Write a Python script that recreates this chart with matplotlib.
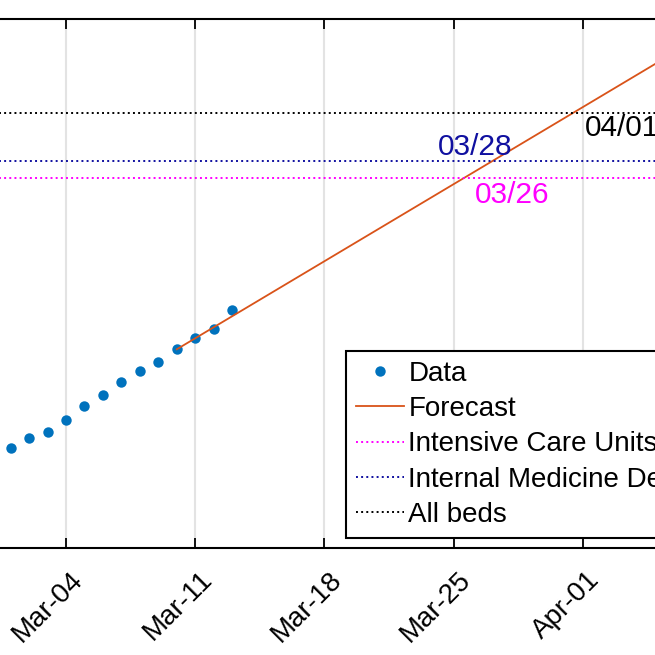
import datetime as dt

import matplotlib.dates as mdates
import matplotlib.transforms as mtransforms
from matplotlib import pyplot as plt

# observed data (Mar 01 - Mar 13)
data_dates = [dt.datetime(2020, 3, d) for d in range(1, 14)]
data_values = [303, 334, 352, 387, 430, 463, 503, 536, 564, 601, 635, 662, 720]

# linear forecast, from Mar 10 onwards
forecast_dates = [dt.datetime(2020, 3, 10), dt.datetime(2020, 4, 8)]
forecast_values = [601, 1567]

# bed capacities
level_names = ['Intensive Care Units', 'Internal Medicine Departments', 'All beds']
level_values = [1118, 1171, 1317]
level_colors = ['#FF00FF', '#1010A0', 'black']
level_labels = ['03/26', '03/28', '04/01']
level_dates = [dt.datetime(2020, 3, 26), dt.datetime(2020, 3, 28), dt.datetime(2020, 4, 1)]

tick_dates = [dt.datetime(2020, 3, 4), dt.datetime(2020, 3, 11), dt.datetime(2020, 3, 18),
              dt.datetime(2020, 3, 25), dt.datetime(2020, 4, 1)]

plt.rcParams['font.family'] = ['Liberation Sans', 'DejaVu Sans']

fig = plt.figure(figsize=(6.55, 6.55), dpi=100)
# the axes is wider than the figure, the picture only shows its middle part
ax = fig.add_axes([-0.1, 0.1634, 1.2, 0.8076])

ax.plot(data_dates, data_values, 'o', color='#0072BD', markersize=7.5, markeredgewidth=0, label='Data')
ax.plot(forecast_dates, forecast_values, '-', color='#D95319', linewidth=1.3, label='Forecast')
for name, val, col in zip(level_names, level_values, level_colors):
    ax.axhline(val, linestyle=':', color=col, linewidth=1.4, label=name)

# crossing dates
offsets = [(3, -17, 'left'), (3, 14, 'right'), (2, -15, 'left')]
for lab, d, val, col, (ox, oy, ha) in zip(level_labels, level_dates, level_values, level_colors, offsets):
    ax.annotate(lab, xy=(d, val), xytext=(ox, oy), textcoords='offset pixels',
                ha=ha, va='center', color=col, fontsize=21.5)

x0 = mdates.date2num(dt.datetime(2020, 3, 4))
ax.set_xlim(x0 - 7.122, x0 + 35.447)
ax.set_ylim(0, 1600)
ax.set_xticks(tick_dates)
ax.xaxis.set_major_formatter(mdates.DateFormatter('%b-%d'))
ax.set_yticks([])
ax.grid(axis='x', color='#e3e3e3', linewidth=1.5)
ax.set_axisbelow(True)
ax.tick_params(axis='x', direction='in', top=True, length=7, width=1.3, labelsize=20, pad=20)
for lbl in ax.get_xticklabels():
    lbl.set_rotation(45)
    lbl.set_ha('right')
    lbl.set_va('center')
    lbl.set_rotation_mode('anchor')
    lbl.set_transform(lbl.get_transform() + mtransforms.ScaledTranslation(0.13, 0, fig.dpi_scale_trans))
for sp in ax.spines.values():
    sp.set_linewidth(1.5)

leg = ax.legend(loc='upper left', bbox_to_anchor=(0.5278, 0.4641), bbox_transform=fig.transFigure,
                fontsize=20, frameon=True, fancybox=False, borderaxespad=0, borderpad=0.36,
                handlelength=1.75, handletextpad=0.15, labelspacing=0.33)
leg.get_frame().set_edgecolor('black')
leg.get_frame().set_linewidth(1.5)
leg.get_frame().set_alpha(1)

fig.savefig('out.png', dpi=100)
